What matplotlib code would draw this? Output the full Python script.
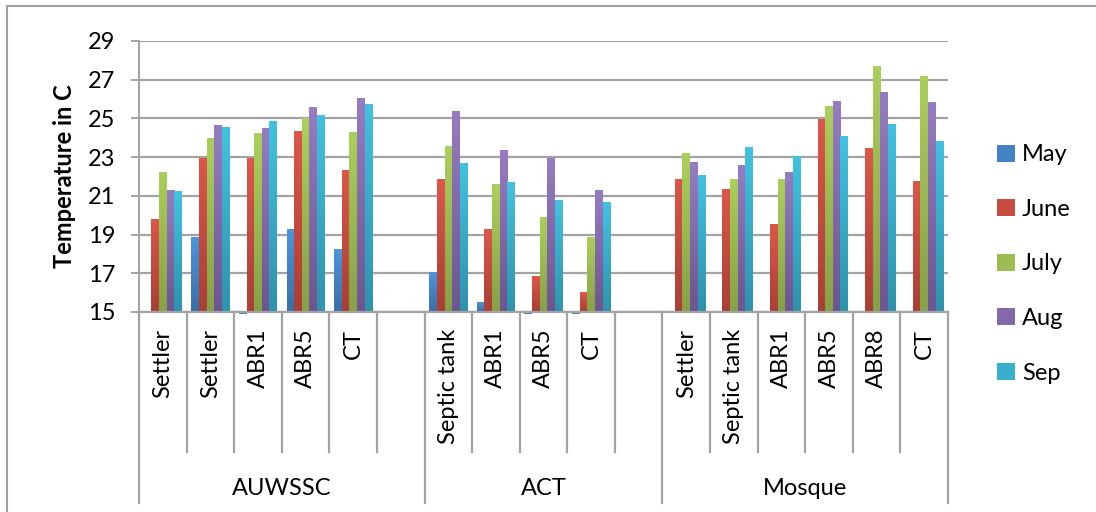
import numpy as np
import matplotlib.pyplot as plt
from matplotlib.colors import LinearSegmentedColormap
from matplotlib.patches import Patch, Rectangle

nan = np.nan

# categories along the x axis (empty strings are the blank slots between sites)
categories = ['Settler', 'Settler', 'ABR1', 'ABR5', 'CT', '',
              'Septic tank', 'ABR1', 'ABR5', 'CT', '',
              'Settler', 'Septic tank', 'ABR1', 'ABR5', 'ABR8', 'CT']
group_names = ['AUWSSC', 'ACT', 'Mosque']
group_first = [0, 6, 11]
group_last = [5, 10, 16]

months = ['May', 'June', 'July', 'Aug', 'Sep']
may = [nan, 18.84, 14.9, 19.25, 18.22, nan, 17.03, 15.48, 14.9, 14.9, nan,
       nan, nan, nan, nan, nan, nan]
june = [19.77, 22.92, 22.92, 24.31, 22.3, nan, 21.83, 19.25, 16.82, 16.0, nan,
        21.83, 21.32, 19.5, 24.93, 23.44, 21.73]
july = [22.2, 23.95, 24.2, 24.98, 24.26, nan, 23.54, 21.58, 19.87, 18.84, nan,
        23.18, 21.83, 21.83, 25.6, 27.67, 27.15]
aug = [21.27, 24.62, 24.46, 25.55, 26.02, nan, 25.35, 23.33, 22.92, 21.3, nan,
       22.71, 22.56, 22.2, 25.86, 26.32, 25.81]
sep = [21.21, 24.52, 24.83, 25.14, 25.71, nan, 22.66, 21.68, 20.75, 20.65, nan,
       22.04, 23.49, 23.02, 24.05, 24.67, 23.79]
series = [may, june, july, aug, sep]

# (top, bottom) gradient colours per month
tops = ['#4D95DB', '#DD5649', '#ABCF5B', '#967CC1', '#41C2E0']
bottoms = ['#3A6EA6', '#A93F36', '#86A146', '#6D5591', '#2E93AC']
mids = ['#4382C4', '#C94C41', '#9CBD52', '#8369AA', '#3AAFCD']

plt.rcParams['font.family'] = ['Lato', 'DejaVu Sans']

fig = plt.figure(figsize=(10.96, 5.12), dpi=100)
ax = fig.add_axes([139 / 1096, 1 - 312 / 512, 809 / 1096, 271 / 512])

ymin, ymax = 15, 29
w = 0.16
x = np.arange(len(categories))

for m, vals in enumerate(series):
    vals = np.array(vals, dtype=float)
    pos = x + (m - 2) * w
    bars = ax.bar(pos, vals - ymin, bottom=ymin, width=w, color=mids[m],
                  linewidth=0, zorder=3, clip_on=False)
    cmap = LinearSegmentedColormap.from_list('g%d' % m, [bottoms[m], tops[m]])
    grad = np.linspace(0, 1, 64).reshape(-1, 1)
    for b, v in zip(bars, vals):
        if np.isnan(v) or v <= ymin:
            continue
        x0 = b.get_x()
        ax.imshow(grad, extent=[x0, x0 + w, ymin, v], origin='lower',
                  aspect='auto', cmap=cmap, zorder=3.5, interpolation='bilinear')

ax.set_xlim(-0.5, len(categories) - 0.5)
ax.set_ylim(ymin, ymax)
ax.set_yticks(np.arange(15, 30, 2))
ax.yaxis.grid(True, color='#A3A3A3', linewidth=1.6, zorder=0)
ax.set_axisbelow(True)
for s in ['top', 'right', 'bottom']:
    ax.spines[s].set_visible(False)
ax.spines['left'].set_color('#A3A3A3')
ax.spines['left'].set_linewidth(1.4)
ax.tick_params(axis='y', length=6, width=1.4, color='#A3A3A3', pad=11,
               labelsize=17)
ax.set_xticks([])

ax.text((65 - 139) / 809, 0.5, 'Temperature in C', transform=ax.transAxes,
        rotation=90, ha='center', va='center', fontsize=17, fontweight='bold')

# bottom axis line
ax.plot([-0.5, len(categories) - 0.5], [0, 0], transform=ax.get_xaxis_transform(),
        color='#A3A3A3', lw=1.6, clip_on=False, zorder=4)

# category separators and labels
trans = ax.get_xaxis_transform()
bounds = set(g - 0.5 for g in group_first) | {len(categories) - 0.5}
for i in range(len(categories) + 1):
    xb = i - 0.5
    low = -0.705 if xb in bounds else -0.517
    ax.plot([xb, xb], [0, low], transform=trans, color='#A3A3A3', lw=1.6,
            clip_on=False)
for i, c in enumerate(categories):
    ax.text(i, -0.062, c, transform=trans, rotation=90, ha='center', va='top',
            fontsize=17)
for name, a, b in zip(group_names, group_first, group_last):
    ax.text((a + b) / 2, -0.65, name, transform=trans, ha='center', va='center',
            fontsize=17)

handles = [Patch(facecolor=mids[m], edgecolor='none') for m in range(5)]
fig.legend(handles, months, loc='center left',
           bbox_to_anchor=(976 / 1096, 1 - 264 / 512), frameon=False,
           fontsize=17, handlelength=0.75, handleheight=0.75,
           handletextpad=0.3, labelspacing=1.42)

# chart area border (cropped on right and bottom)
fig.patches.append(Rectangle((7 / 1096, -0.1), 1.2, 1.1 - 6 / 512,
                             transform=fig.transFigure, fill=False,
                             edgecolor='#A0A0A0', lw=1.5))

fig.savefig('out.png', dpi=100)
